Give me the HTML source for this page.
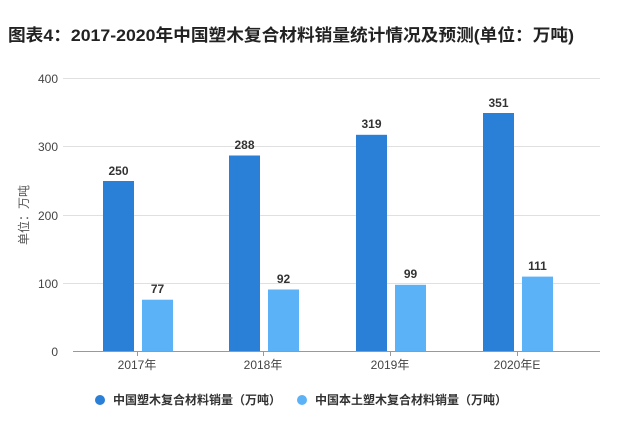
<!DOCTYPE html>
<html><head><meta charset="utf-8"><style>
body{margin:0;background:#fff;width:621px;height:416px;overflow:hidden;font-family:"Liberation Sans","Noto Sans CJK SC",sans-serif}
</style></head><body>
<svg width="621" height="416" xmlns="http://www.w3.org/2000/svg" font-family="Liberation Sans, Noto Sans CJK SC, sans-serif">
<text x="8" y="41" font-size="17" font-weight="bold" fill="#222" textLength="566" lengthAdjust="spacingAndGlyphs">图表4：2017-2020年中国塑木复合材料销量统计情况及预测(单位：万吨)</text>
<g stroke="#e0e0e0" stroke-width="1">
<line x1="63" y1="78.5" x2="600" y2="78.5"/><line x1="63" y1="146.5" x2="600" y2="146.5"/>
<line x1="63" y1="215.5" x2="600" y2="215.5"/><line x1="63" y1="283.5" x2="600" y2="283.5"/>
</g>
<line x1="73" y1="351.5" x2="600" y2="351.5" stroke="#999"/>
<g font-size="12" fill="#444" text-anchor="end">
<text x="58" y="83">400</text><text x="58" y="151">300</text><text x="58" y="220">200</text><text x="58" y="288">100</text><text x="58" y="356">0</text>
</g>
<text transform="translate(28,215) rotate(-90)" font-size="12" fill="#555" text-anchor="middle">单位：万吨</text>
<g stroke="#999"><line x1="137.5" y1="351" x2="137.5" y2="356"/><line x1="263.5" y1="351" x2="263.5" y2="356"/><line x1="390.5" y1="351" x2="390.5" y2="356"/><line x1="517.5" y1="351" x2="517.5" y2="356"/></g>
<g fill="#2a7fd6">
<rect x="103" y="181" width="31" height="170"/>
<rect x="229" y="155.5" width="31" height="195.5"/>
<rect x="356" y="134.8" width="31" height="216.2"/>
<rect x="483" y="113" width="31" height="238"/>
</g>
<g fill="#5cb2f7">
<rect x="142" y="299.7" width="31" height="51.3"/>
<rect x="268" y="289.5" width="31" height="61.5"/>
<rect x="395" y="284.8" width="31" height="66.2"/>
<rect x="522" y="276.6" width="31" height="74.4"/>
</g>
<g font-size="12" font-weight="bold" fill="#333" text-anchor="middle">
<text x="118.5" y="175">250</text><text x="157.5" y="293">77</text>
<text x="244.5" y="149">288</text><text x="283.5" y="283">92</text>
<text x="371.5" y="128">319</text><text x="410.5" y="278">99</text>
<text x="498.5" y="107">351</text><text x="537.5" y="270">111</text>
</g>
<g font-size="12" fill="#444" text-anchor="middle">
<text x="137" y="369">2017年</text><text x="263" y="369">2018年</text><text x="390" y="369">2019年</text><text x="517" y="369">2020年E</text>
</g>
<circle cx="100" cy="400" r="5" fill="#2a7fd6"/>
<text x="113" y="404" font-size="12" font-weight="bold" fill="#333">中国塑木复合材料销量（万吨）</text>
<circle cx="302" cy="400" r="5" fill="#5cb2f7"/>
<text x="315" y="404" font-size="12" font-weight="bold" fill="#333">中国本土塑木复合材料销量（万吨）</text>
</svg>
</body></html>
